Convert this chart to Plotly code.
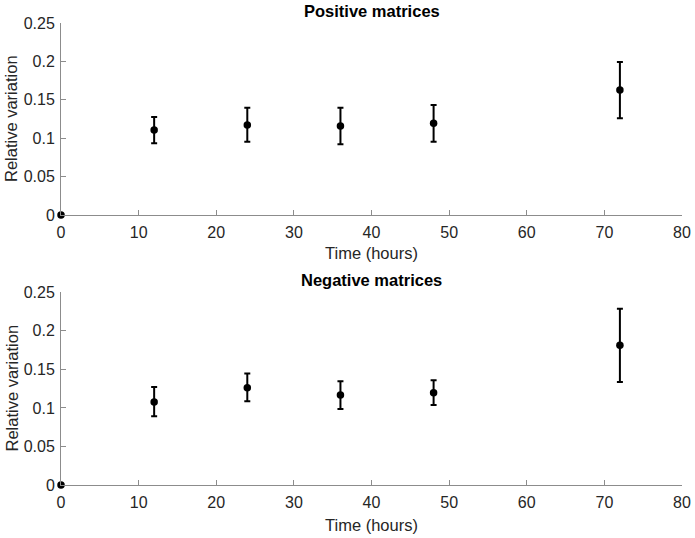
import plotly.graph_objects as go

time_hours = [0, 12, 24, 36, 48, 72]

pos_mean = [0.0, 0.1107, 0.1172, 0.1159, 0.1194, 0.1628]
pos_upper = [0.0, 0.1276, 0.1397, 0.1397, 0.1432, 0.1992]
pos_lower = [0.0, 0.0933, 0.0955, 0.0920, 0.0955, 0.1259]

neg_mean = [0.0, 0.1077, 0.1263, 0.1168, 0.1198, 0.1812]
neg_upper = [0.0, 0.1272, 0.1445, 0.1345, 0.1358, 0.2288]
neg_lower = [0.0, 0.0891, 0.1086, 0.0986, 0.1038, 0.1336]

titles = ["Positive matrices", "Negative matrices"]
x_title = "Time (hours)"
y_title = "Relative variation"

W, H = 695, 538
FONT = "Liberation Sans, Arial, Helvetica, sans-serif"
TXT = "#262626"
AX = "#8c8c8c"


def trace(mean, upper, lower, xa, ya):
    plus = [u - m for u, m in zip(upper, mean)]
    minus = [m - l for m, l in zip(mean, lower)]
    return go.Scatter(
        x=time_hours, y=mean, mode="markers",
        marker=dict(color="black", size=7.5, symbol="circle"),
        error_y=dict(type="data", symmetric=False, array=plus, arrayminus=minus,
                     color="black", thickness=2, width=3),
        xaxis=xa, yaxis=ya, cliponaxis=False, showlegend=False,
    )


fig = go.Figure()
fig.add_trace(trace(pos_mean, pos_upper, pos_lower, "x", "y"))
fig.add_trace(trace(neg_mean, neg_upper, neg_lower, "x2", "y2"))

xdom = [61 / W, 682 / W]
ydom_top = [1 - 215 / H, 1 - 23 / H]
ydom_bot = [1 - 485 / H, 1 - 292.3 / H]


def xaxis(anchor):
    return dict(domain=xdom, anchor=anchor, range=[0, 80], dtick=10, tick0=0,
                showline=True, linecolor=AX, linewidth=1, ticks="inside",
                ticklen=5, tickcolor=AX, showgrid=False, zeroline=False,
                automargin=False, ticklabelstandoff=3,
                tickfont=dict(family=FONT, size=16, color=TXT))


def yaxis(anchor, dom):
    return dict(domain=dom, anchor=anchor, range=[0, 0.25], dtick=0.05, tick0=0,
                showline=True, linecolor=AX, linewidth=1, ticks="inside",
                ticklen=5, tickcolor=AX, showgrid=False, zeroline=False,
                automargin=False, ticklabelstandoff=2,
                tickfont=dict(family=FONT, size=16, color=TXT))


def ann(text, x, y, size, color, bold=False, angle=0):
    return dict(text=("<b>%s</b>" % text) if bold else text, x=x / W, y=1 - y / H,
                xref="paper", yref="paper", showarrow=False, textangle=angle,
                font=dict(family=FONT, size=size, color=color),
                xanchor="center", yanchor="middle")


xc = (61 + 682) / 2
fig.update_layout(
    width=W, height=H,
    margin=dict(l=0, r=0, t=0, b=0),
    paper_bgcolor="white", plot_bgcolor="white",
    xaxis=xaxis("y"), yaxis=yaxis("x", ydom_top),
    xaxis2=xaxis("y2"), yaxis2=yaxis("x2", ydom_bot),
    annotations=[
        ann(titles[0], xc, 11, 16.5, "black", bold=True),
        ann(titles[1], xc, 280, 16.5, "black", bold=True),
        ann(x_title, xc, 253, 16.5, TXT),
        ann(x_title, xc, 525, 16.5, TXT),
        ann(y_title, 11, 119, 16.5, TXT, angle=-90),
        ann(y_title, 11, 388.5, 16.5, TXT, angle=-90),
    ],
)

fig.write_html(
    "out.html",
    config={"displayModeBar": False},
    post_script="document.body.style.margin='0';document.body.style.overflow='hidden';",
)
